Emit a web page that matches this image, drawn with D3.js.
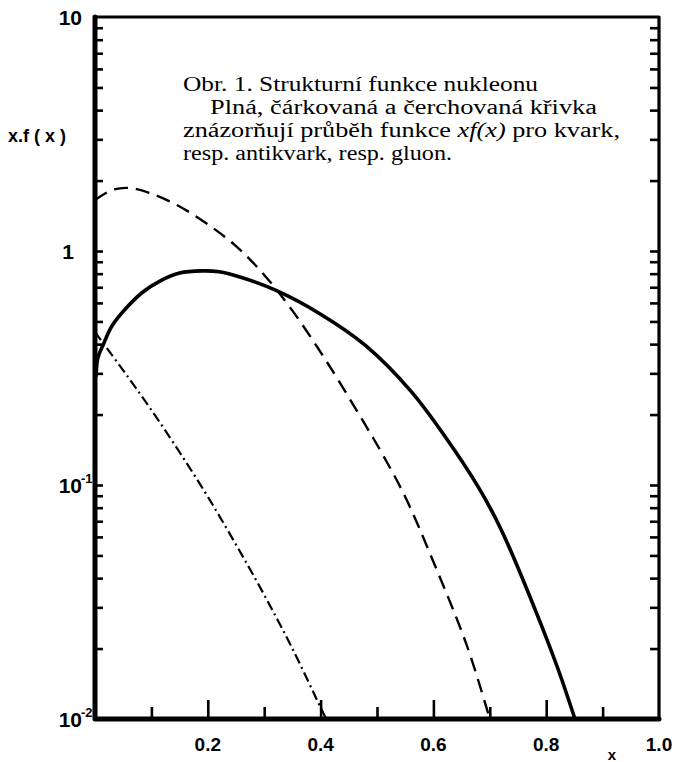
<!DOCTYPE html>
<html>
<head>
<meta charset="utf-8">
<script src="https://cdn.jsdelivr.net/npm/d3@7"></script>
<style>
  body { margin: 0; background: #fff; }
  .lbl { font-family: "Liberation Sans", Arial, sans-serif; font-weight: bold; fill: #000; }
  .caption { font-family: "Liberation Serif", "Times New Roman", serif; font-size: 20.5px; fill: #000; }
  .tick line { stroke: #000; stroke-width: 2.6; }
</style>
</head>
<body>
<div id="chart"></div>
<script>
// x values of the three curves and their xf(x) values
var quarkX = [0.002, 0.005, 0.015, 0.03, 0.057, 0.085, 0.115, 0.15, 0.19, 0.22, 0.26, 0.32, 0.40, 0.48, 0.56, 0.62, 0.68, 0.72, 0.78, 0.82, 0.851],
    quarkY = [0.29, 0.349, 0.40, 0.478, 0.576, 0.668, 0.744, 0.805, 0.822, 0.815, 0.77, 0.68, 0.537, 0.394, 0.252, 0.162, 0.0977, 0.0646, 0.0295, 0.0166, 0.010];

var antiquarkX = [0, 0.03, 0.06, 0.10, 0.15, 0.20, 0.25, 0.30, 0.35, 0.41, 0.47, 0.51, 0.55, 0.60, 0.66, 0.70],
    antiquarkY = [1.65, 1.82, 1.86, 1.76, 1.55, 1.30, 1.05, 0.79, 0.556, 0.339, 0.197, 0.135, 0.089, 0.047, 0.0204, 0.010];

var gluonX = [0, 0.05, 0.10, 0.15, 0.20, 0.25, 0.30, 0.35, 0.40, 0.41],
    gluonY = [0.45, 0.309, 0.209, 0.138, 0.0891, 0.0556, 0.0339, 0.020, 0.0112, 0.010];

// axis ticks and labels
var xMinorTicks = [0.1, 0.3, 0.5, 0.7, 0.9],
    xMajorTicks = [0.2, 0.4, 0.6, 0.8],
    xTickLabels = ["0.2", "0.4", "0.6", "0.8", "1.0"],
    xLabelValues = [0.2, 0.4, 0.6, 0.8, 1.0];

var yDecades = [10, 1, 0.1, 0.01],
    yDecadeBase = ["10", "1", "10", "10"],
    yDecadeExp = ["", "", "-1", "-2"];

var captionLines = [
  "Obr. 1. Strukturní funkce nukleonu",
  "Plná, čárkovaná a čerchovaná křivka",
  ["znázorňují průběh funkce ", "xf(x)", " pro kvark,"],
  "resp. antikvark, resp. gluon."
];

var width = 678, height = 762;

var x = d3.scaleLinear().domain([0, 1]).range([95, 659]),
    y = d3.scaleLog().domain([0.01, 10]).range([719, 17]);

var svg = d3.select("#chart").append("svg")
    .attr("width", width)
    .attr("height", height);

// minor ticks 2..9 in every decade, plus the inner decades
var yTicks = [];
[0.01, 0.1, 1].forEach(function(d) {
  for (var k = 1; k < 10; k++) { if (!(d === 0.01 && k === 1)) yTicks.push(d * k); }
});

// left ticks (inward)
svg.append("g")
    .attr("transform", "translate(" + x(0) + ",0)")
    .call(d3.axisLeft(y).tickValues(yTicks).tickSize(-8).tickFormat(""))
    .call(function(g) { g.select(".domain").remove(); });

// right ticks (inward)
svg.append("g")
    .attr("transform", "translate(" + x(1) + ",0)")
    .call(d3.axisRight(y).tickValues(yTicks).tickSize(-9).tickFormat(""))
    .call(function(g) { g.select(".domain").remove(); });

// bottom ticks, short and long
svg.append("g")
    .attr("transform", "translate(0," + y(0.01) + ")")
    .call(d3.axisBottom(x).tickValues(xMinorTicks).tickSize(-12).tickFormat(""))
    .call(function(g) { g.select(".domain").remove(); });
svg.append("g")
    .attr("transform", "translate(0," + y(0.01) + ")")
    .call(d3.axisBottom(x).tickValues(xMajorTicks).tickSize(-19).tickFormat(""))
    .call(function(g) { g.select(".domain").remove(); });

// frame: heavy left/bottom, lighter top/right
var x0 = x(0), x1 = x(1), y0 = y(0.01), y1 = y(10);
svg.append("path")
    .attr("d", "M" + x0 + "," + y1 + "H" + x1 + "V" + y0)
    .attr("fill", "none").attr("stroke", "#000").attr("stroke-width", 3.2)
    .attr("stroke-linejoin", "round");
svg.append("path")
    .attr("d", "M" + x0 + "," + y1 + "V" + y0 + "H" + x1)
    .attr("fill", "none").attr("stroke", "#000").attr("stroke-width", 5)
    .attr("stroke-linejoin", "round").attr("stroke-linecap", "round");

// curves
var line = d3.line()
    .x(function(d) { return x(d[0]); })
    .y(function(d) { return y(d[1]); })
    .curve(d3.curveCatmullRom.alpha(0.5));

function zip(a, b) { return a.map(function(v, i) { return [v, b[i]]; }); }

svg.append("path")
    .datum(zip(quarkX, quarkY))
    .attr("d", line)
    .attr("fill", "none").attr("stroke", "#000").attr("stroke-width", 3.6);

svg.append("path")
    .datum(zip(antiquarkX, antiquarkY))
    .attr("d", line)
    .attr("fill", "none").attr("stroke", "#000").attr("stroke-width", 2.4)
    .attr("stroke-dasharray", "14,8");

svg.append("path")
    .datum(zip(gluonX, gluonY))
    .attr("d", line)
    .attr("fill", "none").attr("stroke", "#000").attr("stroke-width", 2.2)
    .attr("stroke-dasharray", "10,4,2,4");

// y decade labels
yDecades.forEach(function(d, i) {
  svg.append("text")
      .attr("class", "lbl")
      .attr("x", i === 1 ? 74 : 82)
      .attr("y", y(d) + 8)
      .attr("text-anchor", "end")
      .style("font-size", "21px")
      .text(yDecadeBase[i]);
  if (yDecadeExp[i]) {
    svg.append("text")
        .attr("class", "lbl")
        .attr("x", 81)
        .attr("y", y(d) - 2)
        .style("font-size", "13px")
        .text(yDecadeExp[i]);
  }
});

// x tick labels
xLabelValues.forEach(function(d, i) {
  svg.append("text")
      .attr("class", "lbl")
      .attr("x", x(d))
      .attr("y", 751)
      .attr("text-anchor", "middle")
      .style("font-size", "19px")
      .text(xTickLabels[i]);
});

// axis titles
svg.append("text")
    .attr("class", "lbl")
    .attr("x", 612).attr("y", 760)
    .attr("text-anchor", "middle")
    .style("font-size", "15px")
    .text("x");

svg.append("text")
    .attr("class", "lbl")
    .attr("x", 8).attr("y", 142)
    .style("font-size", "18px")
    .text("x.f ( x )");

// caption inside the plot
var capX = [183, 210, 183, 183],
    capY = [91, 114, 137, 160],
    capEnd = [538, 597, 620, 452];

captionLines.forEach(function(l, i) {
  var t = svg.append("text")
      .attr("class", "caption")
      .attr("x", capX[i])
      .attr("y", capY[i])
      .attr("textLength", capEnd[i] - capX[i])
      .attr("lengthAdjust", "spacingAndGlyphs");
  if (Array.isArray(l)) {
    l.forEach(function(part, j) {
      t.append("tspan")
          .style("font-style", j === 1 ? "italic" : "normal")
          .text(part);
    });
  } else {
    t.text(l);
  }
});
</script>
</body>
</html>
